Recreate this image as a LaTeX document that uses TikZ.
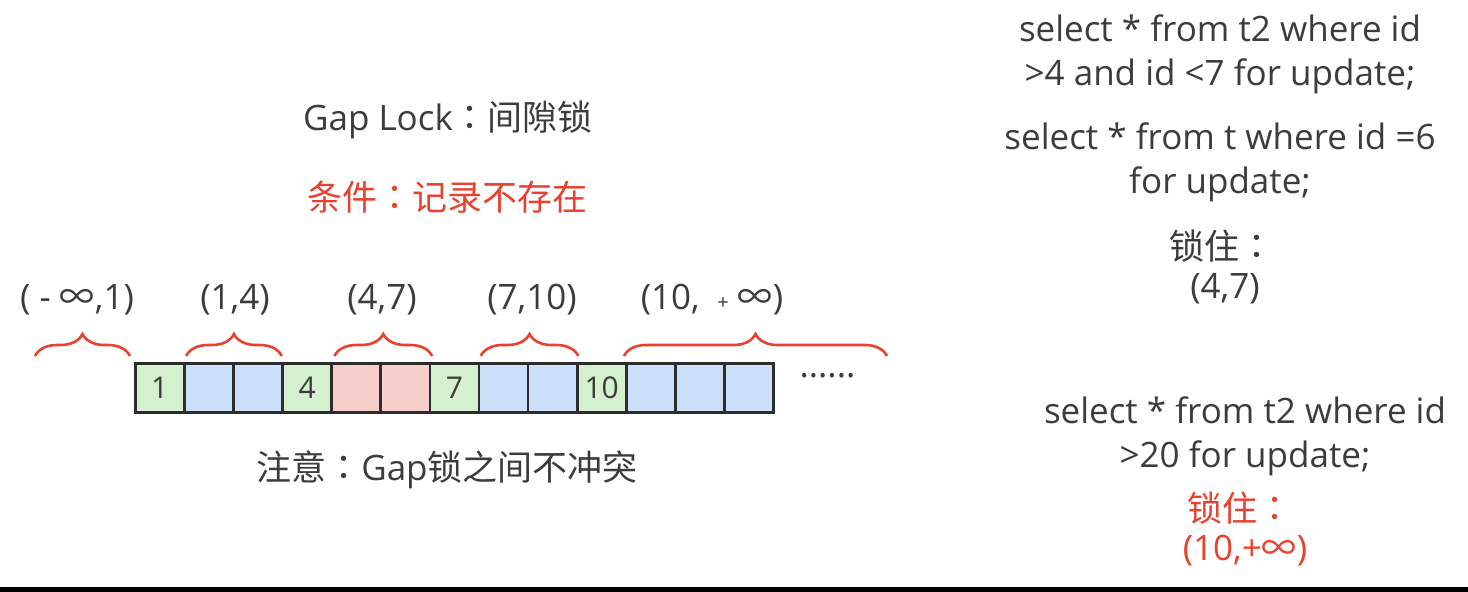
\documentclass[tikz,border=0pt]{standalone}
\usepackage{fontspec}
\setmainfont{Open Sans}
\newfontfamily\cjk{Noto Sans CJK SC}
\newfontfamily\cjktc{Noto Sans CJK TC}
\newcommand\fcolon{{\cjktc ：}}
\usetikzlibrary{decorations.pathreplacing,positioning}
\definecolor{txtgray}{RGB}{60,60,60}
\definecolor{lockred}{RGB}{232,65,45}
\definecolor{cellline}{RGB}{45,45,45}
\definecolor{keyfill}{RGB}{213,240,206}
\definecolor{gapfill}{RGB}{204,224,250}
\definecolor{lockfill}{RGB}{246,206,204}
\begin{document}
\begin{tikzpicture}[x=1pt,y=1pt,yscale=-1,xscale=1,
  cell/.style={draw=cellline, line width=2.6pt, minimum width=49pt, minimum height=49pt,
    inner sep=0pt, anchor=north west, text=txtgray, font=\fontsize{30}{30}\selectfont},
  gapbrace/.style={draw=lockred, line width=2.6pt, decorate,
    decoration={brace, amplitude=22pt}},
  lbl/.style={text=txtgray, font=\fontsize{35}{44}\selectfont, align=center},
  redlbl/.style={lbl, text=lockred}]
\useasboundingbox (0,0) rectangle (1468,592);
\fill[white] (0,0) rectangle (1468,592);
\fill[black] (0,587) rectangle (1468,592);

% titles
\node[lbl] (title) at (448,120) {Gap Lock\fcolon{\cjk 间隙锁}};
\node[redlbl] (cond) at (447,197) {{\cjk 条件}\fcolon{\cjk 记录不存在}};

% index records and gaps
\foreach \k/\kind/\num in {1/key/1, 2/gap/, 3/gap/, 4/key/4, 5/lock/, 6/lock/, 7/key/7,
    8/gap/, 9/gap/, 10/key/10, 11/gap/, 12/gap/, 13/gap/}
  \node[cell, fill=\kind fill] (c\k) at ({134+(\k-1)*49.1},362) {\num};
\node[lbl, anchor=west] (more) at (796,376) {......};

% gap braces
\coordinate (b0s) at (35,356);
\coordinate (b0e) at (130,356);
\draw[gapbrace] (b0s) -- (b0e);
\draw[gapbrace] ([xshift=3pt,yshift=-6pt]c2.north west) -- ([xshift=-2pt,yshift=-6pt]c3.north east);
\draw[gapbrace] ([xshift=4pt,yshift=-6pt]c5.north west) -- ([xshift=1pt,yshift=-6pt]c6.north east);
\draw[gapbrace] ([xshift=3pt,yshift=-6pt]c8.north west) -- ([xshift=0pt,yshift=-6pt]c9.north east);
\coordinate (b4e) at (887,356);
\draw[gapbrace] ([xshift=-1pt,yshift=-6pt]c11.north west) -- (b4e);

\node[lbl] (g0) at (77,300) {( - {\cjk ∞},1)};
\node[lbl] (g1) at (235,300) {(1,4)};
\node[lbl] (g2) at (382,300) {(4,7)};
\node[lbl] (g3) at (532,300) {(7,10)};
\node[lbl] (g4) at (712,300) {(10,\enspace{\fontsize{20}{20}\selectfont +} {\cjk ∞})};

\node[lbl] (note) at (447,470) {{\cjk 注意}\fcolon Gap{\cjk 锁之间不冲突}};

% examples
\node[lbl] (q1) at (1220,54) {select * from t2 where id\\>4 and id <7 for update;};
\node[lbl] (q2) at (1220,162) {select * from t where id =6\\for update;};
\node[lbl] (r2a) at (1222,246) {{\cjk 锁住}\fcolon};
\node[lbl] (r2b) at (1225,289) {(4,7)};
\node[lbl] (q3) at (1245,436) {select * from t2 where id\\>20 for update;};
\node[redlbl] (r3a) at (1240,508) {{\cjk 锁住}\fcolon};
\node[redlbl] (r3b) at (1245,551) {(10,+{\cjk ∞})};
\end{tikzpicture}
\end{document}
